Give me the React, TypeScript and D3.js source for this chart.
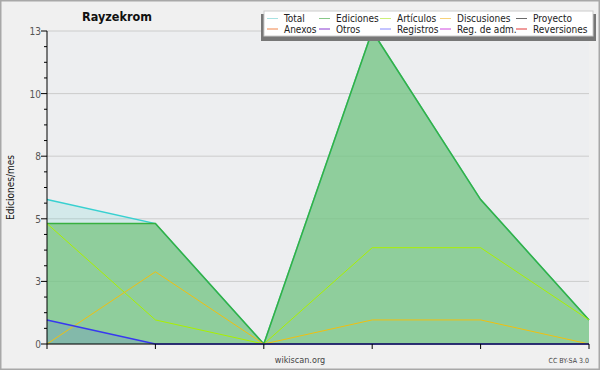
import * as d3 from 'd3';

// meses (seis puntos) y series de ediciones por mes
const meses = ['2019-01', '2019-02', '2019-03', '2019-04', '2019-05', '2019-06'];
const total = [6, 5, 0, 13, 6, 1];
const ediciones = [5, 5, 0, 13, 6, 1];
const articulos = [5, 1, 0, 4, 4, 1];
const discusiones = [0, 3, 0, 1, 1, 0];
const registros = [1, 0, 0, 0, 0, 0];

const yTicks = [0, 2.6, 5.2, 7.8, 10.4, 13];

const legendRow1 = [
  { name: 'Total', color: '#a8e2e2' },
  { name: 'Ediciones', color: '#88c888' },
  { name: 'Artículos', color: '#ccf07a' },
  { name: 'Discusiones', color: '#f6d27a' },
  { name: 'Proyecto', color: '#6a6a6a' },
];
const legendRow2 = [
  { name: 'Anexos', color: '#f08448' },
  { name: 'Otros', color: '#8838d0' },
  { name: 'Registros', color: '#8888ff' },
  { name: 'Reg. de adm.', color: '#d048e0' },
  { name: 'Reversiones', color: '#e03838' },
];
const legendX = [267, 319, 380, 440, 516];

export default function App() {
  const width = 600,
    height = 370,
    marginLeft = 47,
    marginRight = 11,
    marginTop = 31,
    marginBottom = 26;

  const x = d3
    .scalePoint()
    .domain(meses)
    .range([marginLeft, width - marginRight]);

  const y = d3
    .scaleLinear()
    .domain([0, 13])
    .range([height - marginBottom, marginTop]);

  const minorTicks = d3.range(0, 13.01, 0.65).filter((v) => !yTicks.some((t) => Math.abs(t - v) < 0.01));

  const area = (vals) =>
    d3
      .area()
      .x((d, i) => x(meses[i]))
      .y0(y(0))
      .y1((d) => y(d))(vals);
  const line = (vals) =>
    d3
      .line()
      .x((d, i) => x(meses[i]))
      .y((d) => y(d))(vals);

  const font = "'DejaVu Sans Condensed', 'DejaVu Sans', sans-serif";

  return (
    <svg
      width={width}
      height={height}
      style={{ position: 'absolute', left: 0, top: 0 }}
      fontFamily={font}
    >
      <rect x={0.5} y={0.5} width={width - 1} height={height - 1} fill="#f0f0f0" stroke="#a8a8a8" strokeWidth={2} />
      <rect
        x={marginLeft}
        y={marginTop}
        width={width - marginLeft - marginRight}
        height={height - marginTop - marginBottom}
        fill="#edeef0"
      />

      {/* rejilla */}
      {yTicks.map((t) => (
        <line key={t} x1={marginLeft} x2={width - marginRight} y1={y(t)} y2={y(t)} stroke="#cccccc" />
      ))}

      {/* áreas */}
      <path d={area(total)} fill="#40d0c8" fillOpacity={0.15} />
      <path d={area(ediciones)} fill="#74c47e" fillOpacity={0.72} />
      <path d={area(registros)} fill="#4040ff" fillOpacity={0.15} />

      {/* líneas */}
      <path d={line(total)} fill="none" stroke="#38d0d0" strokeWidth={1.5} />
      <path d={line(ediciones)} fill="none" stroke="#38b040" strokeWidth={1.5} />
      <path d={line(articulos)} fill="none" stroke="#aaf000" strokeWidth={1} />
      <path d={line(discusiones)} fill="none" stroke="#f0c010" strokeWidth={1} />
      <path d={line(registros)} fill="none" stroke="#3838f0" strokeWidth={1.5} />

      {/* ejes */}
      <line x1={marginLeft} x2={marginLeft} y1={marginTop} y2={y(0)} stroke="#000" />
      <line x1={marginLeft} x2={width - marginRight} y1={y(0)} y2={y(0)} stroke="#000" />
      {meses.map((m) => (
        <line key={m} x1={x(m)} x2={x(m)} y1={y(0)} y2={y(0) + 5} stroke="#000" />
      ))}
      {yTicks.map((t) => (
        <g key={t}>
          <line x1={marginLeft - 6} x2={marginLeft} y1={y(t)} y2={y(t)} stroke="#000" />
          <text x={marginLeft - 6} y={y(t) + 4} textAnchor="end" fontSize={10} fill="#555">
            {Math.round(t)}
          </text>
        </g>
      ))}
      {minorTicks.map((t) => (
        <line key={t} x1={marginLeft - 3} x2={marginLeft} y1={y(t)} y2={y(t)} stroke="#000" />
      ))}

      <text
        transform={`translate(14,${(marginTop + y(0)) / 2}) rotate(-90)`}
        textAnchor="middle"
        fontSize={10}
        fill="#111"
      >
        Ediciones/mes
      </text>

      <text x={117} y={21} textAnchor="middle" fontSize={12.5} fontWeight="bold" fill="#111">
        Rayzekrom
      </text>

      {/* leyenda */}
      <rect x={261} y={14} width={335} height={27} fill="#777" />
      <rect x={264} y={11} width={329} height={25} fill="#fff" stroke="#ccc" />
      {[legendRow1, legendRow2].map((row, r) =>
        row.map((d, i) => (
          <g key={d.name} transform={`translate(${legendX[i]},${r === 0 ? 18.5 : 29})`}>
            <line x1={0} x2={11} y1={0} y2={0} stroke={d.color} />
            <text x={17} y={3.5} fontSize={10} fill="#222">
              {d.name}
            </text>
          </g>
        ))
      )}

      <text x={300} y={363} textAnchor="middle" fontSize={9} fill="#444">
        wikiscan.org
      </text>
      <text x={589} y={363} textAnchor="end" fontSize={7} fill="#444">
        CC BY-SA 3.0
      </text>
    </svg>
  );
}
